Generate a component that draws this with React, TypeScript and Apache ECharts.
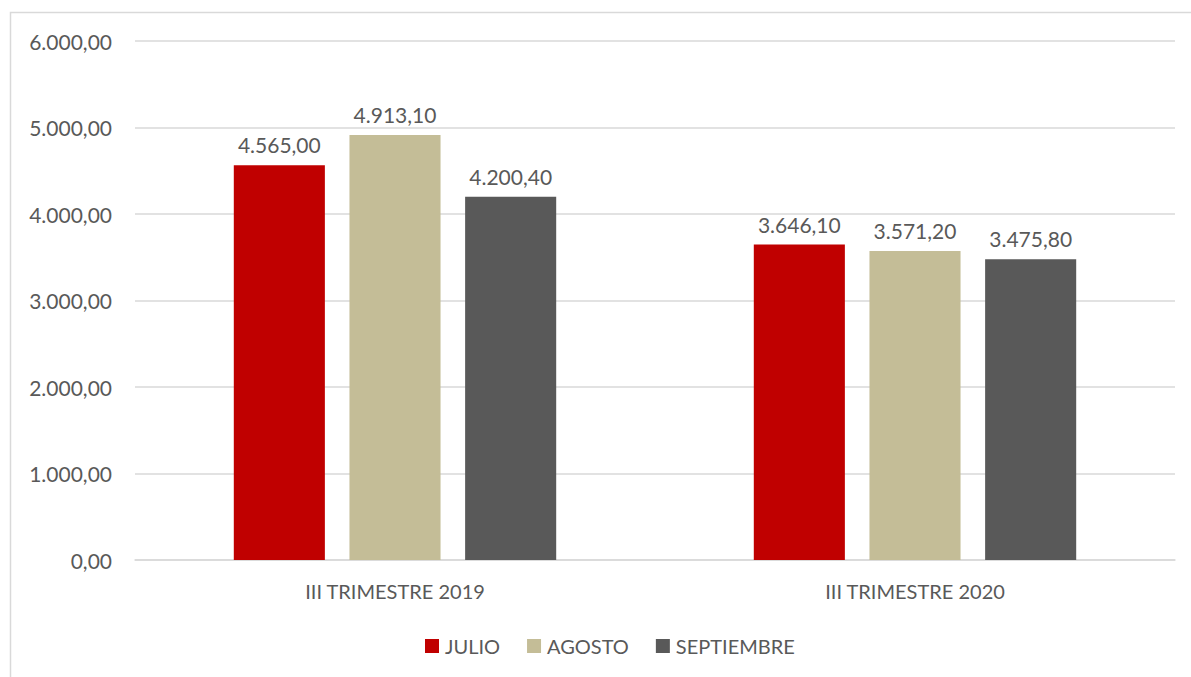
import React, { useEffect, useRef } from "react";
import * as echarts from "echarts";

const categories = ["III TRIMESTRE 2019", "III TRIMESTRE 2020"];
const seriesNames = ["JULIO", "AGOSTO", "SEPTIEMBRE"];
const julio = [4565.0, 3646.1];
const agosto = [4913.1, 3571.2];
const septiembre = [4200.4, 3475.8];
const colors = ["#C00000", "#C4BD97", "#595959"];

const FONT = "Lato, 'Open Sans', sans-serif";
const TEXT = "#595959";

function fmt(v: number): string {
  const [i, d] = v.toFixed(2).split(".");
  const withSep = i.replace(/\B(?=(\d{3})+(?!\d))/g, ".");
  return withSep + "," + d;
}

export default function App() {
  const ref = useRef<HTMLDivElement>(null);
  useEffect(() => {
    if (!ref.current) return;
    const chart = echarts.init(ref.current, undefined, { renderer: "svg" });
    const data = [julio, agosto, septiembre];
    chart.setOption({
      animation: false,
      backgroundColor: "#ffffff",
      textStyle: { fontFamily: FONT },
      graphic: [
        {
          type: "rect",
          shape: { x: 10.5, y: 12.5, width: 1300, height: 800 },
          style: { fill: "none", stroke: "#D9D9D9", lineWidth: 1.5 },
          z: -1,
        },
      ],
      grid: { left: 135, right: 16, top: 41, bottom: 117, containLabel: false },
      legend: {
        data: seriesNames,
        bottom: 16,
        left: 420,
        itemWidth: 14,
        itemHeight: 14,
        itemGap: 27,
        icon: "rect",
        textStyle: { fontFamily: FONT, fontSize: 20, color: TEXT, padding: [0, 0, 0, 1] },
      },
      xAxis: {
        type: "category",
        data: categories,
        axisLine: { lineStyle: { color: "#D9D9D9", width: 1.5 } },
        axisTick: { show: false },
        axisLabel: { fontFamily: FONT, fontSize: 20, color: TEXT, margin: 21 },
      },
      yAxis: {
        type: "value",
        min: 0,
        max: 6000,
        interval: 1000,
        axisLine: { show: false },
        axisTick: { show: false },
        splitLine: { lineStyle: { color: "#D9D9D9", width: 1.5 } },
        axisLabel: {
          fontFamily: FONT,
          fontSize: 21,
          color: TEXT,
          margin: 23,
          formatter: (v: number) => fmt(v),
        },
      },
      series: seriesNames.map((name, idx) => ({
        name,
        type: "bar",
        data: data[idx],
        barGap: "27%",
        barCategoryGap: "38%",
        itemStyle: { color: colors[idx] },
        label: {
          show: true,
          position: "top",
          distance: 10,
          fontFamily: FONT,
          fontSize: 21,
          color: TEXT,
          formatter: (p: any) => fmt(p.value),
        },
      })),
    });
    return () => chart.dispose();
  }, []);
  return (
    <div
      ref={ref}
      style={{ position: "absolute", left: 0, top: 0, width: 1191, height: 677 }}
    />
  );
}
